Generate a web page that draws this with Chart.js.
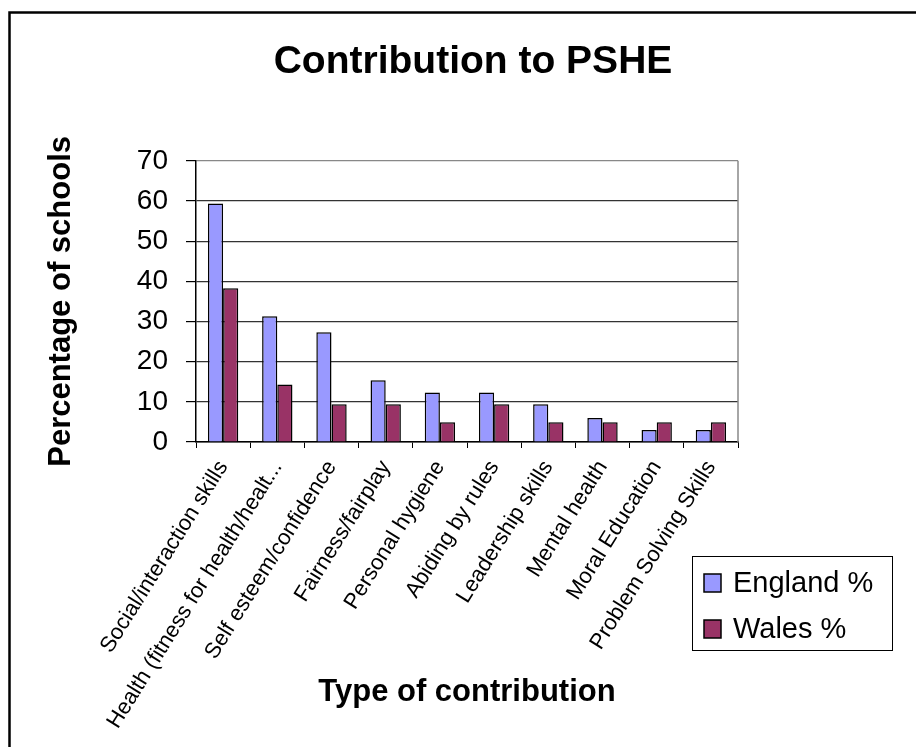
<!DOCTYPE html>
<html>
<head>
<meta charset="utf-8">
<script src="https://cdn.jsdelivr.net/npm/chart.js@4/dist/chart.umd.min.js"></script>
<style>
  html, body { margin: 0; padding: 0; background: #fff; }
  #wrap { width: 916px; height: 747px; position: relative; }
</style>
</head>
<body>
<div id="wrap"><canvas id="chart"></canvas></div>
<script>
const categories = [
    'Social/interaction skills',
    'Health (fitness for health/healt...',
    'Self esteem/confidence',
    'Fairness/fairplay',
    'Personal hygiene',
    'Abiding by rules',
    'Leadership skills',
    'Mental health',
    'Moral Education',
    'Problem Solving Skills'
];
const englandPct = [59.4, 31.3, 27.3, 15.4, 12.3, 12.3, 9.4, 6.0, 3.0, 3.0];
const walesPct = [38.3, 14.3, 9.4, 9.4, 4.9, 9.4, 4.9, 4.9, 4.9, 4.9];
const yTicks = [0, 10, 20, 30, 40, 50, 60, 70];

const FONT = 'Arial, "Liberation Sans", sans-serif';

// frame round the whole chart (cut off at right and bottom)
const framePlugin = {
    id: 'frame',
    beforeDraw: function (chart) {
        const ctx = chart.ctx;
        ctx.save();
        ctx.strokeStyle = '#000';
        ctx.lineWidth = 2.5;
        ctx.beginPath();
        ctx.moveTo(9.5, 760);
        ctx.lineTo(9.5, 12.5);
        ctx.lineTo(930, 12.5);
        ctx.stroke();
        ctx.restore();
    },
    afterDatasetsDraw: function (chart) {
        const a = chart.chartArea;
        const ctx = chart.ctx;
        ctx.save();
        ctx.strokeStyle = '#888';
        ctx.lineWidth = 1.5;
        ctx.beginPath();
        ctx.moveTo(a.right, a.top);
        ctx.lineTo(a.right, a.bottom);
        ctx.stroke();
        ctx.restore();
    }
};

// legend box drawn under the plot, right side
const boxLegend = {
    id: 'boxLegend',
    afterDraw: function (chart) {
        const ctx = chart.ctx;
        const x = 692, y = 556, w = 200, h = 94;
        ctx.save();
        ctx.fillStyle = '#fff';
        ctx.fillRect(x, y, w, h);
        ctx.strokeStyle = '#000';
        ctx.lineWidth = 1;
        ctx.strokeRect(x + 0.5, y + 0.5, w, h);
        ctx.font = '29px ' + FONT;
        ctx.textBaseline = 'middle';
        chart.data.datasets.forEach(function (ds, i) {
            const cy = y + 27 + i * 46;
            ctx.fillStyle = ds.backgroundColor;
            ctx.fillRect(x + 12, cy - 9, 17, 18);
            ctx.strokeStyle = '#000';
            ctx.lineWidth = 1.5;
            ctx.strokeRect(x + 12, cy - 9, 17, 18);
            ctx.fillStyle = '#000';
            ctx.fillText(ds.label, x + 41, cy + 1);
        });
        ctx.restore();
    }
};

new Chart(document.getElementById('chart'), {
    type: 'bar',
    data: {
        labels: categories,
        datasets: [
            { label: 'England %', data: englandPct, backgroundColor: '#9999FF', borderColor: '#000', borderWidth: 1.5 },
            { label: 'Wales %', data: walesPct, backgroundColor: '#993366', borderColor: '#000', borderWidth: 1.5 }
        ]
    },
    options: {
        responsive: true,
        maintainAspectRatio: false,
        animation: false,
        devicePixelRatio: 1,
        // negative right padding so the title centres at x ~473 like the original
        layout: { padding: { left: 0, right: -30, top: 0, bottom: 0 } },
        datasets: { bar: { barPercentage: 1, categoryPercentage: 0.56 } },
        plugins: {
            legend: { display: false },
            tooltip: { enabled: false },
            title: {
                display: true,
                text: 'Contribution to PSHE',
                color: '#000',
                font: { family: FONT, size: 39, weight: 'bold' },
                padding: { top: 39, bottom: 75 }
            }
        },
        scales: {
            x: {
                grid: { display: true, drawOnChartArea: false, drawTicks: true, tickLength: 6, offset: true, color: '#000' },
                border: { color: '#000', width: 1.5 },
                ticks: {
                    color: '#000',
                    font: { family: FONT, size: 22 },
                    maxRotation: 58,
                    minRotation: 58,
                    autoSkip: false,
                    padding: 8
                },
                title: {
                    display: true,
                    text: 'Type of contribution',
                    color: '#000',
                    font: { family: FONT, size: 31, weight: 'bold' },
                    padding: { top: 0, bottom: 36 }
                },
                afterFit: function (scale) { scale.height = 305; }
            },
            y: {
                min: 0,
                max: 70,
                afterBuildTicks: function (scale) {
                    scale.ticks = yTicks.map(function (v) { return { value: v }; });
                },
                grid: {
                    color: function (c) { return c.tick && c.tick.value === 70 ? '#888' : '#333'; },
                    lineWidth: 1.2,
                    tickLength: 10,
                    tickColor: '#000'
                },
                border: { color: '#000', width: 1.5 },
                ticks: {
                    color: '#000',
                    font: { family: FONT, size: 28 },
                    padding: 18
                },
                title: {
                    display: true,
                    text: 'Percentage of schools',
                    color: '#000',
                    font: { family: FONT, size: 31, weight: 'bold' },
                    padding: { top: 43, bottom: 0 }
                },
                afterFit: function (scale) { scale.width = 196; }
            },
            // empty axis that keeps the space right of the plot for the legend
            right: {
                position: 'right',
                display: true,
                grid: { display: false, drawTicks: false },
                border: { display: false },
                ticks: { display: false },
                afterFit: function (scale) { scale.width = 208; }
            }
        }
    },
    plugins: [framePlugin, boxLegend]
});
</script>
</body>
</html>
